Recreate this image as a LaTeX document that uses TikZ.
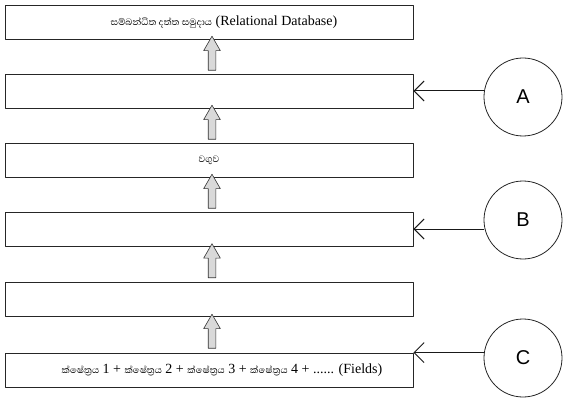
\documentclass[tikz,border=0pt]{standalone}
\usepackage{fontspec}
\setmainfont{Liberation Serif}
\setsansfont{Liberation Sans}
\newfontfamily\sinfont[Script=Sinhala,Scale=0.84]{Abhaya Libre}
\usetikzlibrary{arrows.meta,shapes.arrows,calc}

\begin{document}
\begin{tikzpicture}[line cap=round,line join=round,x=1pt,y=-1pt,
    layer/.style={draw=black!85,line width=0.8pt,minimum width=408pt,minimum height=34pt,inner sep=0pt,font=\fontsize{14}{16}\selectfont},
    uparr/.style={single arrow,draw=black!80,fill=gray!30,line width=0.6pt,shape border rotate=90,inner sep=3.5pt,
        single arrow head extend=4.5pt,single arrow tip angle=60,minimum height=34pt},
    ring/.style={circle,draw=black!85,line width=0.8pt,minimum size=78pt,inner sep=0pt,font=\sffamily\fontsize{20}{24}\selectfont},
    pointer/.style={draw=black!90,line width=1pt,-{Straight Barb[length=10pt,width=20pt,line width=1pt]}}]
    \useasboundingbox (0,0) rectangle (567,398);
    % stacked layers
    \node[layer] (b1) at (209,22) {\hspace*{30pt}{\sinfont සම්බන්ධිත දත්ත සමුදාය} (Relational Database)};
    \node[layer] (b2) at (209,91) {};
    \node[layer] (b3) at (209,160) {{\sinfont වගුව}};
    \node[layer] (b4) at (209,229) {};
    \node[layer] (b5) at (209,299) {};
    \node[layer] (b6) at (209,370) {\hspace*{26pt}{\sinfont ක්ෂේත්^^^^200dරය} 1 + {\sinfont ක්ෂේත්^^^^200dරය} 2 + {\sinfont ක්ෂේත්^^^^200dරය} 3 + {\sinfont ක්ෂේත්^^^^200dරය} 4 + ...... (Fields)};
    % block arrows
    \foreach \lo/\hi in {b2/b1,b3/b2,b4/b3,b5/b4,b6/b5}
        \node[uparr] at ($(\lo.north)!0.5!(\hi.south)+(3,0)$) {};
    % labels
    \node[ring] (cA) at (523,97) {A};
    \node[ring] (cB) at (523,220) {B};
    \node[ring] (cC) at (523,358) {C};
    \draw[pointer] (cA.west |- b2.east) -- (b2.east);
    \draw[pointer] (cB.west |- b4.east) -- (b4.east);
    \draw[pointer] (cC.west |- b6.north east) -- (b6.north east);
\end{tikzpicture}
\end{document}
